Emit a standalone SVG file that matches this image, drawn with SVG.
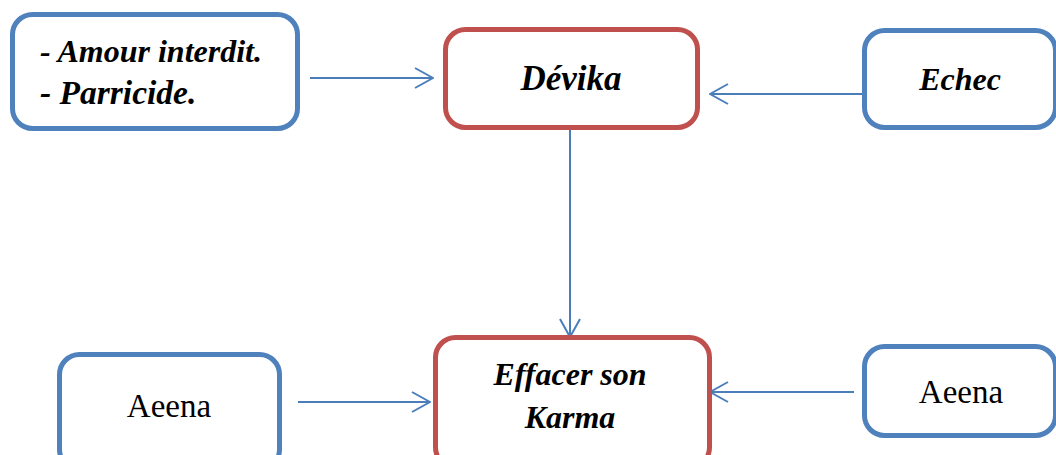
<svg xmlns="http://www.w3.org/2000/svg" width="1056" height="455" viewBox="0 0 1056 455">
  <style>
    .box { fill: #ffffff; stroke-width: 5; }
    .blue { stroke: #4F81BD; }
    .red { stroke: #C0504D; }
    .lbl { font-family: "Liberation Serif", "Times New Roman", serif; fill: #000000; }
    .bi { font-weight: bold; font-style: italic; font-size: 32px; }
    .reg { font-size: 33px; }
    .mid { text-anchor: middle; }
    .link { stroke: #4A7EBB; stroke-width: 2; fill: none; }
  </style>
  <defs>
    <marker id="open-arrow" viewBox="0 0 20 22" refX="19" refY="11" markerWidth="20" markerHeight="22" markerUnits="userSpaceOnUse" orient="auto">
      <path d="M1,1 L19,11 L1,21" fill="none" stroke="#4A7EBB" stroke-width="2"/>
    </marker>
  </defs>

  <rect width="1056" height="455" fill="#ffffff"/>

  <g id="connectors">
    <line class="link" x1="310" y1="78" x2="433" y2="78" marker-end="url(#open-arrow)"/>
    <line class="link" x1="862" y1="94" x2="710" y2="94" marker-end="url(#open-arrow)"/>
    <line class="link" x1="570" y1="130" x2="570" y2="337" marker-end="url(#open-arrow)"/>
    <line class="link" x1="298" y1="402" x2="430" y2="402" marker-end="url(#open-arrow)"/>
    <line class="link" x1="854" y1="392" x2="710" y2="392" marker-end="url(#open-arrow)"/>
  </g>

  <g id="causes">
    <rect class="box blue" x="12.5" y="14.5" width="285" height="114" rx="20"/>
    <text class="lbl bi" x="40" y="62">- Amour interdit.</text>
    <text class="lbl bi" x="40" y="104" style="font-size:33.5px">- Parricide.</text>
  </g>

  <g id="devika">
    <rect class="box red" x="445.5" y="29.5" width="252" height="98" rx="20"/>
    <text class="lbl bi mid" x="571" y="90" style="font-size:35px">Dévika</text>
  </g>

  <g id="echec">
    <rect class="box blue" x="864.5" y="30.5" width="191" height="97" rx="20"/>
    <text class="lbl bi mid" x="960" y="90">Echec</text>
  </g>

  <g id="aeena-left">
    <rect class="box blue" x="59.5" y="354.5" width="220" height="115" rx="20"/>
    <text class="lbl reg mid" x="169" y="417">Aeena</text>
  </g>

  <g id="karma">
    <rect class="box red" x="435.5" y="337.5" width="274" height="130" rx="20"/>
    <text class="lbl bi mid" x="570" y="385">Effacer son</text>
    <text class="lbl bi mid" x="570" y="428">Karma</text>
  </g>

  <g id="aeena-right">
    <rect class="box blue" x="864.5" y="346.5" width="191" height="89" rx="20"/>
    <text class="lbl reg mid" x="961" y="403">Aeena</text>
  </g>
</svg>
